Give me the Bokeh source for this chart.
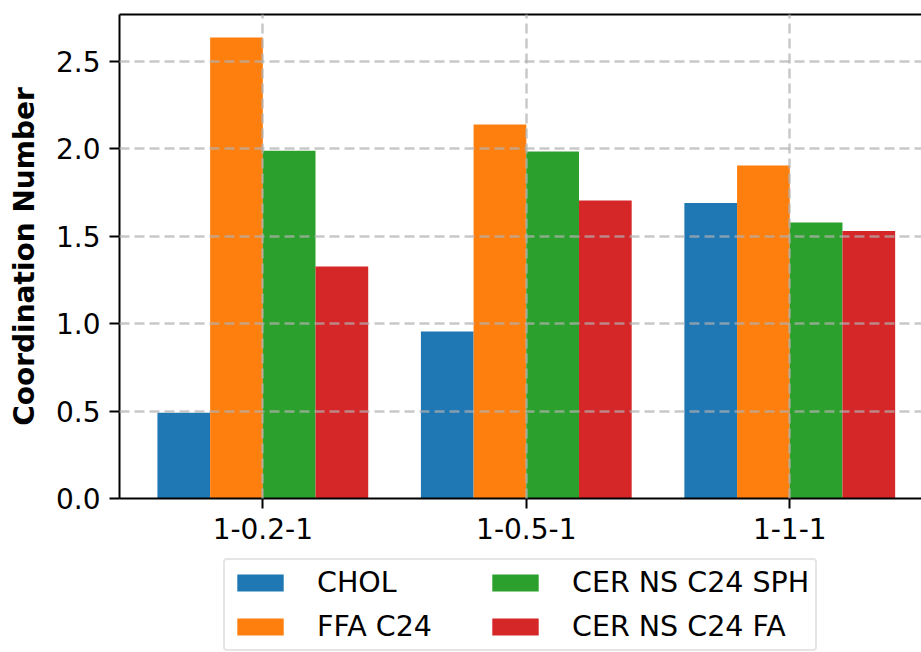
from bokeh.plotting import figure
from bokeh.models import (Range1d, FixedTicker, LinearAxis, Legend, LegendItem,
                          ColumnDataSource, PrintfTickFormatter)
from bokeh.layouts import column
from bokeh.transform import dodge
from bokeh.embed import file_html
from bokeh.resources import INLINE

categories = ["1-0.2-1", "1-0.5-1", "1-1-1"]
series_names = ["CHOL", "FFA C24", "CER NS C24 SPH", "CER NS C24 FA"]
chol = [0.49, 0.955, 1.69]
ffa_c24 = [2.637, 2.14, 1.905]
cer_sph = [1.99, 1.985, 1.579]
cer_fa = [1.327, 1.705, 1.531]
colors = ["#1f77b4", "#ff7f0e", "#2ca02c", "#d62728"]
y_ticks = [0.0, 0.5, 1.0, 1.5, 2.0, 2.5]

FONT = "DejaVu Sans"
FS = "28px"

xs = list(range(len(categories)))
src = ColumnDataSource(dict(x=xs, chol=chol, ffa=ffa_c24, sph=cer_sph, fa=cer_fa))
cols = ["chol", "ffa", "sph", "fa"]

H_MAIN = 550
p = figure(width=921, height=H_MAIN, output_backend="svg", toolbar_location=None,
           x_range=Range1d(-0.544, 2.5), y_range=Range1d(0, 2.769),
           min_border_left=119, min_border_right=0, min_border_top=14,
           min_border_bottom=52)
p.outline_line_color = None
p.background_fill_color = "white"
p.border_fill_color = "white"

bar_w = 0.2
n = len(cols)
for i, c in enumerate(cols):
    off = (i - (n - 1) / 2) * bar_w
    p.vbar(x=dodge("x", off, range=p.x_range), top=c, width=bar_w, source=src,
           fill_color=colors[i], line_color=None)

# axes
for ax in (p.xaxis[0], p.yaxis[0]):
    ax.axis_line_width = 2
    ax.axis_line_color = "black"
    ax.major_tick_line_width = 2
    ax.major_tick_in = 0
    ax.major_tick_out = 10
    ax.minor_tick_line_color = None
    ax.major_label_text_font = FONT
    ax.major_label_text_font_size = FS
    ax.major_label_text_color = "black"
    ax.major_label_standoff = 9

p.xaxis.ticker = FixedTicker(ticks=xs)
p.xaxis.major_label_overrides = {i: c for i, c in enumerate(categories)}
p.yaxis.ticker = FixedTicker(ticks=y_ticks)
p.yaxis.formatter = PrintfTickFormatter(format="%.1f")
p.yaxis.axis_label = "Coordination Number"
p.yaxis.axis_label_text_font = FONT
p.yaxis.axis_label_text_font_size = FS
p.yaxis.axis_label_text_font_style = "bold"
p.yaxis.axis_label_text_color = "black"
p.yaxis.axis_label_standoff = 12

top = LinearAxis(ticker=FixedTicker(ticks=[]), major_label_text_font_size="0px",
                 major_tick_out=0, major_tick_in=0, minor_tick_out=0, minor_tick_in=0,
                 axis_line_width=2, axis_line_color="black")
p.add_layout(top, "above")

# grid
for g in (p.xgrid[0], p.ygrid[0]):
    g.grid_line_color = "#b0b0b0"
    g.grid_line_alpha = 0.7
    g.grid_line_width = 2.5
    g.grid_line_dash = "10 5"
    g.level = "annotation"
p.xgrid.ticker = FixedTicker(ticks=xs)
p.ygrid.ticker = FixedTicker(ticks=y_ticks)

# legend strip below the chart
H_LEG = 652 - H_MAIN
pl = figure(width=921, height=H_LEG, output_backend="svg", toolbar_location=None,
            x_range=Range1d(0, 1), y_range=Range1d(0, 1),
            x_axis_location=None, y_axis_location=None,
            min_border_left=0, min_border_right=0, min_border_top=0, min_border_bottom=0)
pl.outline_line_color = None
pl.xgrid.visible = False
pl.ygrid.visible = False
# legend swatches: one off-range entry per series so the legend has a colour to show
swatches = [pl.vbar(x=[5], top=[0], width=0.1, fill_color=colors[k], line_color=None)
            for k in range(n)]
legend = Legend(items=[LegendItem(label=series_names[k], renderers=[swatches[k]])
                       for k in range(n)],
                orientation="vertical", ncols=2,
                location=(104, 1),
                label_text_font=FONT, label_text_font_size="28.5px", label_text_color="black",
                glyph_width=58, glyph_height=21, label_standoff=28, spacing=11,
                padding=6, label_width=158,
                border_line_color="#cccccc", border_line_width=2,
                background_fill_color="white", background_fill_alpha=1.0)
if "border_radius" in Legend.properties():
    legend.border_radius = 4
pl.add_layout(legend, "center")

layout = column(p, pl, spacing=0)
open("out.html", "w").write(file_html(layout, INLINE))
